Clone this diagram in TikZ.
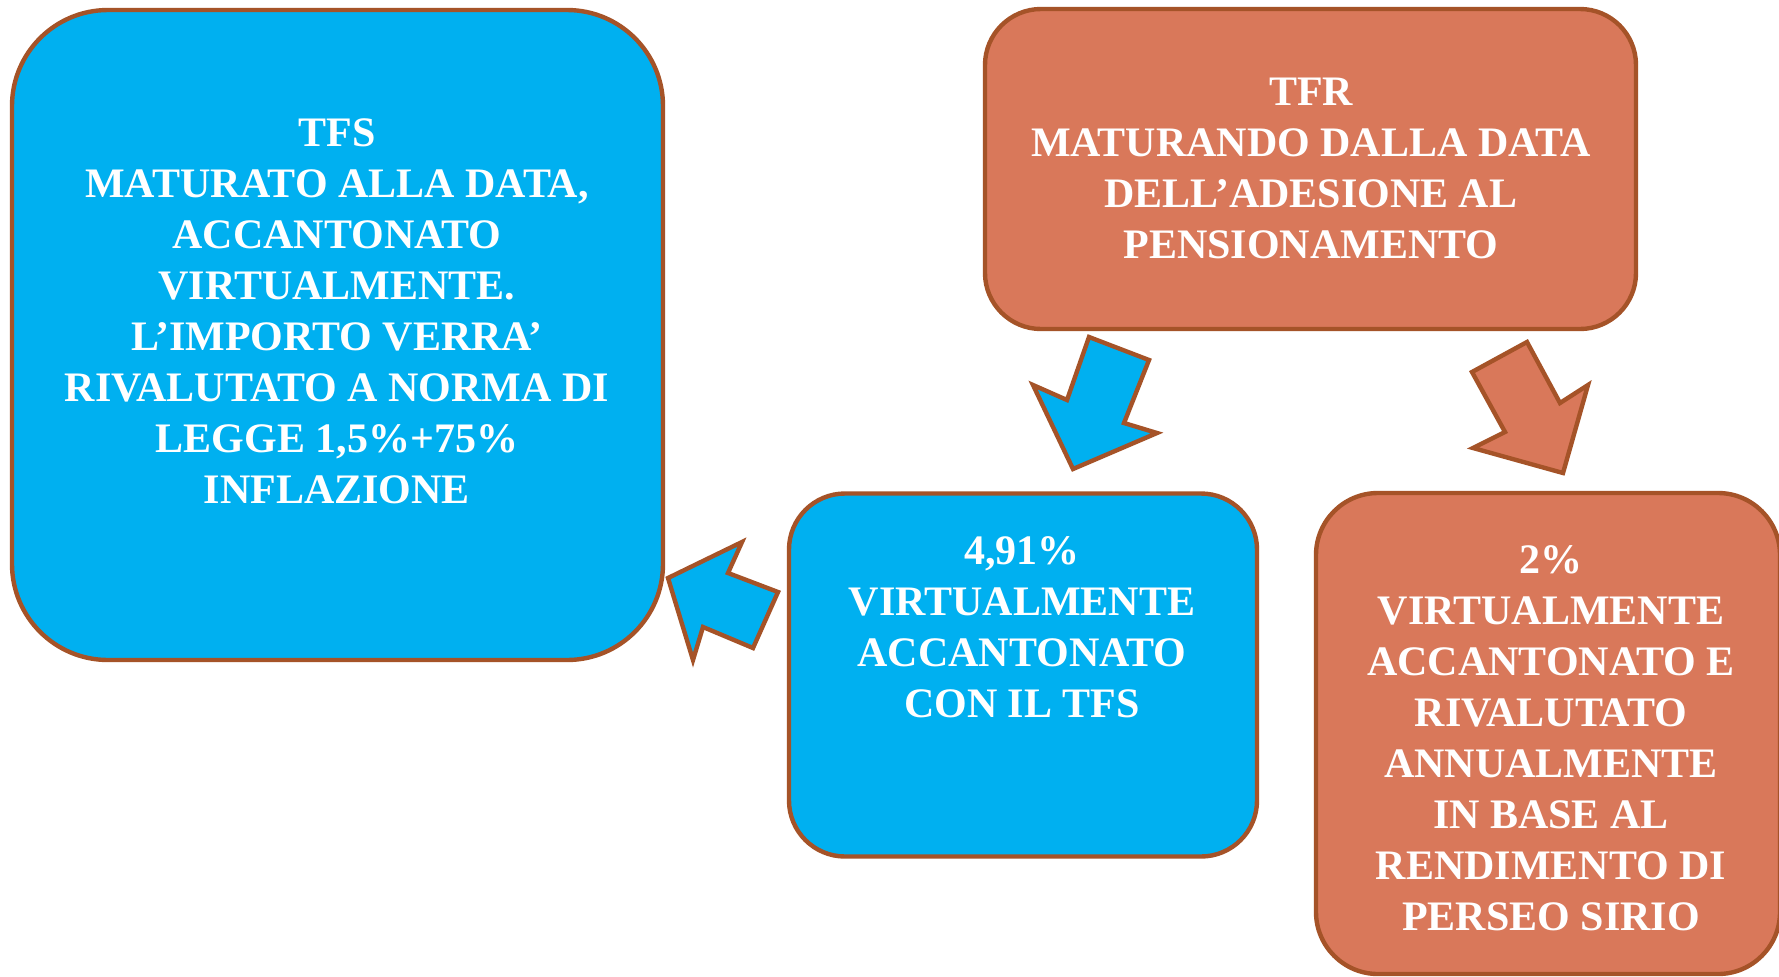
\documentclass[tikz,border=0pt]{standalone}
\usepackage{fontspec}
\setmainfont{Liberation Serif}
\definecolor{boxblue}{RGB}{0,176,240}
\definecolor{boxorange}{RGB}{217,120,90}
\definecolor{edgebrown}{RGB}{165,83,40}
\begin{document}
\begin{tikzpicture}[x=0.5pt,y=-0.5pt,
  panel/.style={draw=edgebrown, line width=2.2pt, inner sep=0pt, outer sep=0pt},
  bluepanel/.style={panel, fill=boxblue},
  orangepanel/.style={panel, fill=boxorange},
  boxtext/.style={text=white, font=\bfseries\fontsize{21pt}{25.5pt}\selectfont, align=center, inner sep=0pt, anchor=north},
  blockarrow/.style={draw=edgebrown, line width=2.2pt, line join=miter}
]
\useasboundingbox (0,0) rectangle (1779,976);
\fill[white] (0,0) rectangle (1779,976);
\clip (0,0) rectangle (1779,976);

% boxes
\node[bluepanel, rounded corners=48pt, minimum width=325.5pt, minimum height=325pt] (tfsbox) at (337.5,335) {};
\node[orangepanel, rounded corners=28pt, minimum width=325.5pt, minimum height=160pt] (tfrbox) at (1310.5,169) {};
\node[bluepanel, rounded corners=28pt, minimum width=234pt, minimum height=181.5pt] (quotabox) at (1023,675) {};
\node[orangepanel, rounded corners=31pt, minimum width=232pt, minimum height=240.5pt] (rendbox) at (1548,733.5) {};

% texts
\node[boxtext] (tfstext) at (337,118) {TFS\\MATURATO ALLA DATA,\\ACCANTONATO\\VIRTUALMENTE.\\L’IMPORTO VERRA’\\RIVALUTATO A NORMA DI\\LEGGE 1,5\%+75\%\\INFLAZIONE};
\node[boxtext] (tfrtext) at (1311,78) {TFR\\MATURANDO DALLA DATA\\DELL’ADESIONE AL\\PENSIONAMENTO};
\node[boxtext] (quotatext) at (1022,536) {4,91\%\\VIRTUALMENTE\\ACCANTONATO\\CON IL TFS};
\node[boxtext] (rendtext) at (1551,545) {2\%\\VIRTUALMENTE\\ACCANTONATO E\\RIVALUTATO\\ANNUALMENTE\\IN BASE AL\\RENDIMENTO DI\\PERSEO SIRIO};

% block arrows
\draw[blockarrow, fill=boxblue] (1089,337) -- (1149,360) -- (1124,423) -- (1157,433) -- (1073,469) -- (1033,385) -- (1067,400) -- cycle;
\draw[blockarrow, fill=boxorange] (1472,372) -- (1527,342) -- (1560,403) -- (1588,385) -- (1563,473) -- (1473,448) -- (1505,432) -- cycle;
\draw[blockarrow, fill=boxblue] (668,578) -- (742,542) -- (728,573) -- (778,592) -- (753,648) -- (703,627) -- (693,660) -- cycle;
\end{tikzpicture}
\end{document}
